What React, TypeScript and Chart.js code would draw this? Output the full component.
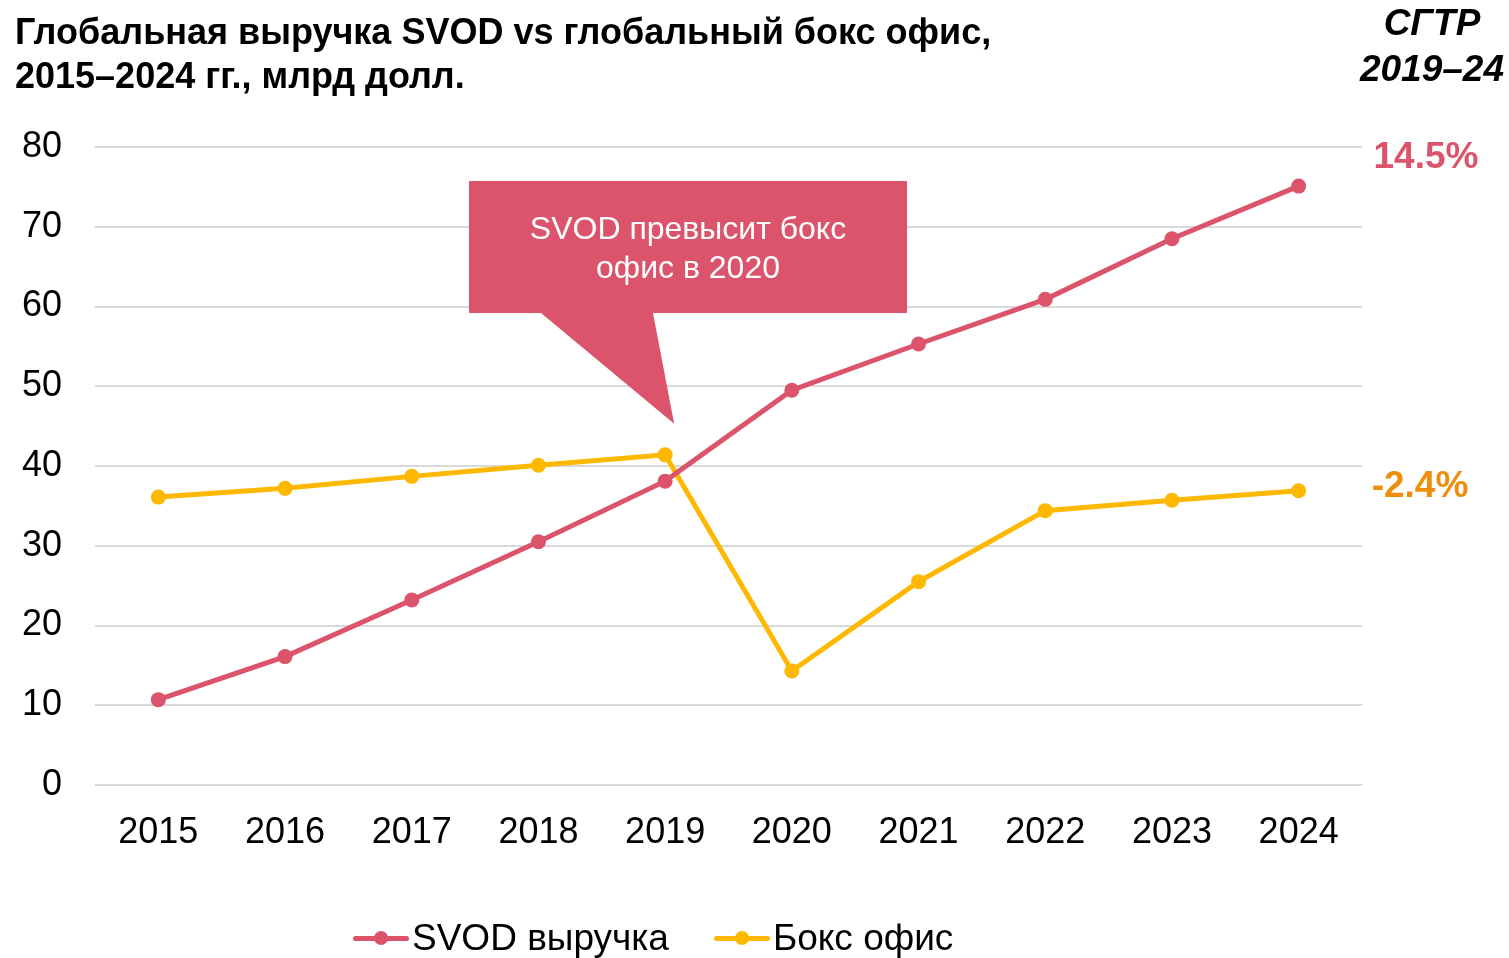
import React, { useEffect, useRef } from "react";
import { Chart, registerables } from "chart.js";

Chart.register(...registerables);

const years = ["2015", "2016", "2017", "2018", "2019", "2020", "2021", "2022", "2023", "2024"];
const svodRevenue = [10.7, 16.1, 23.2, 30.5, 38.1, 49.5, 55.3, 60.9, 68.5, 75.1];
const boxOffice = [36.1, 37.2, 38.7, 40.1, 41.4, 14.3, 25.5, 34.4, 35.7, 36.9];
const seriesNames = ["SVOD выручка", "Бокс офис"];
const cagrLabels = ["14.5%", "-2.4%"];
const titleLines = ["Глобальная выручка SVOD vs глобальный бокс офис,", "2015–2024 гг., млрд долл."];
const cagrHeader = ["СГТР", "2019–24"];
const calloutLines = ["SVOD превысит бокс", "офис в 2020"];

const PINK = "#DB546B";
const GOLD = "#FFB800";
const ORANGE = "#EE8E0A";
const FONT = "'Liberation Sans', Arial, sans-serif";

const overlayPlugin = {
  id: "overlay",
  afterDatasetsDraw(chart: any) {
    const ctx = chart.ctx;
    const area = chart.chartArea;
    const x = chart.scales.x;
    const y = chart.scales.y;
    ctx.save();
    const bx0 = area.left + 374;
    const bx1 = area.left + 812;
    const by0 = area.top + 34;
    const by1 = area.top + 166;
    const tipX = x.getPixelForValue(4) + 9;
    const tipY = y.getPixelForValue(45.3);
    ctx.fillStyle = PINK;
    ctx.beginPath();
    ctx.moveTo(bx0, by0);
    ctx.lineTo(bx1, by0);
    ctx.lineTo(bx1, by1);
    ctx.lineTo(bx0 + 184, by1);
    ctx.lineTo(tipX, tipY);
    ctx.lineTo(bx0 + 72, by1);
    ctx.lineTo(bx0, by1);
    ctx.closePath();
    ctx.fill();
    ctx.fillStyle = "#ffffff";
    ctx.font = `32px ${FONT}`;
    ctx.textAlign = "center";
    ctx.textBaseline = "middle";
    const cx = (bx0 + bx1) / 2;
    ctx.fillText(calloutLines[0], cx, by0 + 49);
    ctx.fillText(calloutLines[1], cx, by0 + 88);

    ctx.font = `bold 37px ${FONT}`;
    ctx.textAlign = "center";
    ctx.fillStyle = PINK;
    ctx.fillText(cagrLabels[0], area.right + 64, y.getPixelForValue(78.6));
    ctx.fillStyle = ORANGE;
    ctx.fillText(cagrLabels[1], area.right + 58, y.getPixelForValue(37.4));
    ctx.restore();
  },
};

function LegendItem({ color, label }: { color: string; label: string }) {
  return (
    <div style={{ display: "flex", alignItems: "center" }}>
      <div style={{ position: "relative", width: 56, height: 14, marginRight: 3 }}>
        <div style={{ position: "absolute", left: 0, right: 0, top: 5, height: 5, background: color, borderRadius: 3 }} />
        <div style={{ position: "absolute", left: 21, top: 0, width: 14, height: 14, background: color, borderRadius: 7 }} />
      </div>
      <span style={{ fontFamily: FONT, fontSize: 37, color: "#000", lineHeight: "40px" }}>{label}</span>
    </div>
  );
}

export default function App() {
  const ref = useRef<HTMLCanvasElement | null>(null);
  useEffect(() => {
    if (!ref.current) return;
    const chart = new Chart(ref.current, {
      type: "line",
      data: {
        labels: years,
        datasets: [
          {
            label: seriesNames[0],
            data: svodRevenue,
            borderColor: PINK,
            backgroundColor: PINK,
            borderWidth: 5,
            pointRadius: 7.5,
            pointHoverRadius: 7.5,
            pointBorderWidth: 0,
            tension: 0,
          },
          {
            label: seriesNames[1],
            data: boxOffice,
            borderColor: GOLD,
            backgroundColor: GOLD,
            borderWidth: 5,
            pointRadius: 7.5,
            pointHoverRadius: 7.5,
            pointBorderWidth: 0,
            tension: 0,
          },
        ],
      },
      options: {
        responsive: false,
        animation: false,
        devicePixelRatio: 1,
        layout: { padding: { left: 0, right: 147, top: 147, bottom: 103 } },
        plugins: { legend: { display: false }, tooltip: { enabled: false } },
        scales: {
          x: {
            offset: true,
            grid: { display: false, offset: true },
            border: { display: false },
            ticks: { font: { family: FONT, size: 36 }, color: "#000", padding: 18 },
            afterFit: (s: any) => {
              s.height = 70;
            },
          },
          y: {
            min: 0,
            max: 80,
            grid: { color: "#D9D9D9", lineWidth: 2, drawTicks: false },
            border: { display: false },
            ticks: { stepSize: 10, font: { family: FONT, size: 36 }, color: "#000", padding: 33 },
            afterFit: (s: any) => {
              s.width = 95;
            },
          },
        },
      },
      plugins: [overlayPlugin],
    });
    return () => chart.destroy();
  }, []);

  return (
    <div style={{ position: "absolute", left: 0, top: 0, width: 1509, height: 958, background: "#fff", overflow: "hidden" }}>
      <canvas ref={ref} width={1509} height={958} style={{ position: "absolute", left: 0, top: 0 }} />
      <div
        style={{
          position: "absolute",
          left: 15,
          top: 10,
          fontFamily: FONT,
          fontWeight: "bold",
          fontSize: 36,
          lineHeight: "44px",
          color: "#000",
          whiteSpace: "nowrap",
        }}
      >
        <div>{titleLines[0]}</div>
        <div>{titleLines[1]}</div>
      </div>
      <div
        style={{
          position: "absolute",
          left: 1352,
          width: 160,
          top: 0,
          textAlign: "center",
          fontFamily: FONT,
          fontWeight: "bold",
          fontStyle: "italic",
          fontSize: 37,
          lineHeight: "46px",
          color: "#000",
          whiteSpace: "nowrap",
        }}
      >
        <div>{cagrHeader[0]}</div>
        <div>{cagrHeader[1]}</div>
      </div>
      <div style={{ position: "absolute", left: 353, top: 918, display: "flex", gap: 45 }}>
        <LegendItem color={PINK} label={seriesNames[0]} />
        <LegendItem color={GOLD} label={seriesNames[1]} />
      </div>
    </div>
  );
}
